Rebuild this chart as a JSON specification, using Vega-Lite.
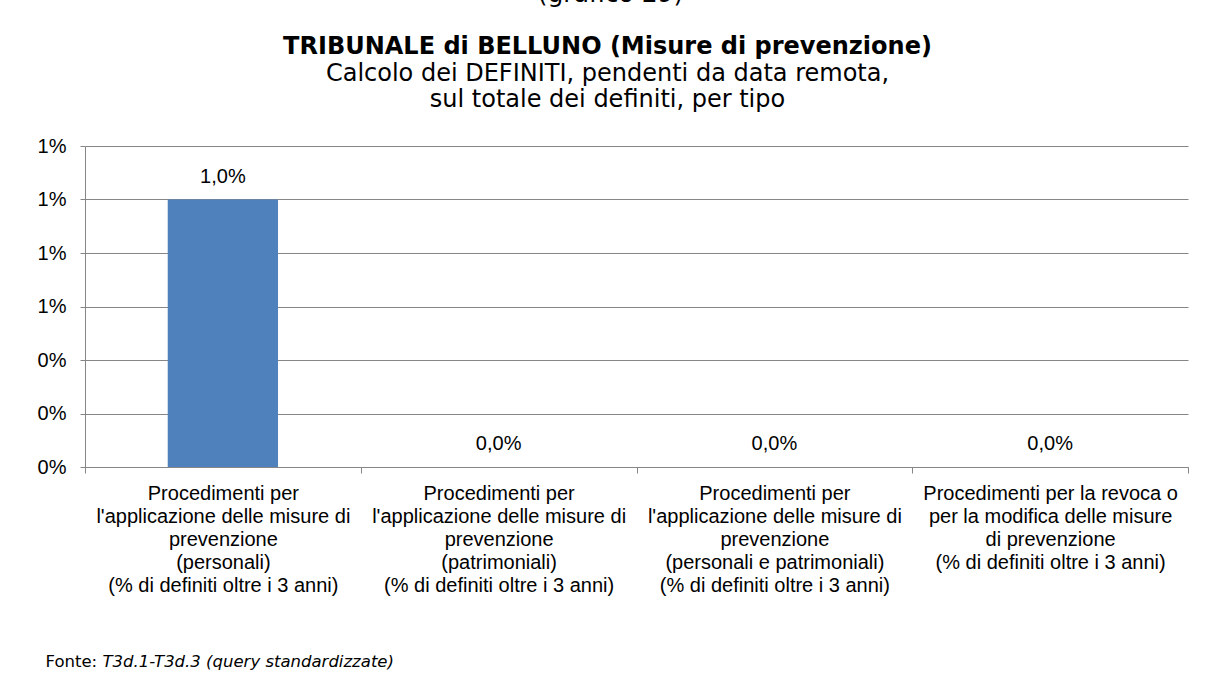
{
  "$schema": "https://vega.github.io/schema/vega-lite/v6.json",
  "width": 1103,
  "height": 321,
  "autosize": {"type": "none"},
  "padding": {"left": 85, "top": 146, "right": 24, "bottom": 212},
  "background": "white",
  "config": {
    "locale": {"number": {"decimal": ",", "thousands": ".", "grouping": [3], "currency": ["", " €"]}},
    "view": {"stroke": null}
  },
  "title": {
    "text": "TRIBUNALE di BELLUNO (Misure di prevenzione)",
    "subtitle": ["Calcolo dei DEFINITI, pendenti da data remota,", "sul totale dei definiti, per tipo"],
    "anchor": "middle",
    "frame": "group",
    "dx": -29,
    "offset": -131,
    "font": "DejaVu Sans",
    "fontSize": 24,
    "fontWeight": "bold",
    "color": "black",
    "subtitleFont": "DejaVu Sans",
    "subtitleFontSize": 24,
    "subtitleColor": "black",
    "subtitleLineHeight": 26,
    "subtitlePadding": 3
  },
  "data": {
    "values": [
      {"cat": "Procedimenti per\nl'applicazione delle misure di\nprevenzione\n(personali)\n(% di definiti oltre i 3 anni)", "val": 0.01},
      {"cat": "Procedimenti per\nl'applicazione delle misure di\nprevenzione\n(patrimoniali)\n(% di definiti oltre i 3 anni)", "val": 0},
      {"cat": "Procedimenti per\nl'applicazione delle misure di\nprevenzione\n(personali e patrimoniali)\n(% di definiti oltre i 3 anni)", "val": 0},
      {"cat": "Procedimenti per la revoca o\nper la modifica delle misure\ndi prevenzione\n(% di definiti oltre i 3 anni)", "val": 0}
    ]
  },
  "resolve": {"axis": {"x": "independent", "y": "independent"}},
  "layer": [
    {
      "mark": {"type": "bar", "color": "#4F81BD", "width": {"band": 0.4}},
      "encoding": {
        "x": {
          "field": "cat", "type": "nominal", "sort": null,
          "scale": {"paddingInner": 0, "paddingOuter": 0},
          "axis": {
            "orient": "bottom",
            "labelExpr": "split(datum.label, '\\n')",
            "labelAngle": 0,
            "labelFont": "Liberation Sans",
            "labelFontSize": 20,
            "labelLineHeight": 23,
            "labelColor": "black",
            "labelPadding": 10,
            "labelLimit": 400,
            "tickBand": "extent",
            "tickColor": "#868686",
            "tickSize": 6,
            "domainColor": "#868686",
            "domainWidth": 1,
            "title": "Fonte:",
            "titleFont": "DejaVu Sans",
            "titleFontSize": 16.5,
            "titleFontWeight": "normal",
            "titleColor": "black",
            "titleAnchor": "start",
            "titleAlign": "left",
            "titleBaseline": "middle",
            "titleX": -40,
            "titleY": 194
          }
        },
        "y": {
          "field": "val", "type": "quantitative",
          "scale": {"domain": [0, 0.012], "nice": false},
          "axis": {
            "values": [0, 0.002, 0.004, 0.006, 0.008, 0.01, 0.012],
            "format": ".0%",
            "grid": true,
            "gridColor": "#868686",
            "domainColor": "#868686",
            "tickColor": "#868686",
            "tickSize": 5,
            "labelPadding": 14,
            "labelFont": "Liberation Sans",
            "labelFontSize": 20,
            "labelColor": "black",
            "title": null
          }
        }
      }
    },
    {
      "mark": {"type": "text", "font": "Liberation Sans", "fontSize": 20, "color": "black", "baseline": "middle", "dy": -23},
      "encoding": {
        "x": {
          "field": "cat", "type": "nominal", "sort": null,
          "axis": {
            "orient": "top",
            "labels": false, "ticks": false, "domain": false, "grid": false,
            "title": "T3d.1-T3d.3 (query standardizzate)",
            "titleFont": "DejaVu Sans",
            "titleFontSize": 16.5,
            "titleFontWeight": "normal",
            "titleFontStyle": "italic",
            "titleColor": "black",
            "titleAnchor": "start",
            "titleAlign": "left",
            "titleBaseline": "middle",
            "titleX": 17,
            "titleY": 515
          }
        },
        "y": {
          "field": "val", "type": "quantitative",
          "axis": {
            "orient": "right",
            "labels": false, "ticks": false, "domain": false, "grid": false,
            "title": "(grafico 29)",
            "titleAngle": 0,
            "titleFont": "DejaVu Sans",
            "titleFontSize": 25,
            "titleFontWeight": "normal",
            "titleColor": "black",
            "titleAlign": "center",
            "titleBaseline": "alphabetic",
            "titleX": -578,
            "titleY": -145
          }
        },
        "text": {"field": "val", "type": "quantitative", "format": ".1%"}
      }
    }
  ]
}
